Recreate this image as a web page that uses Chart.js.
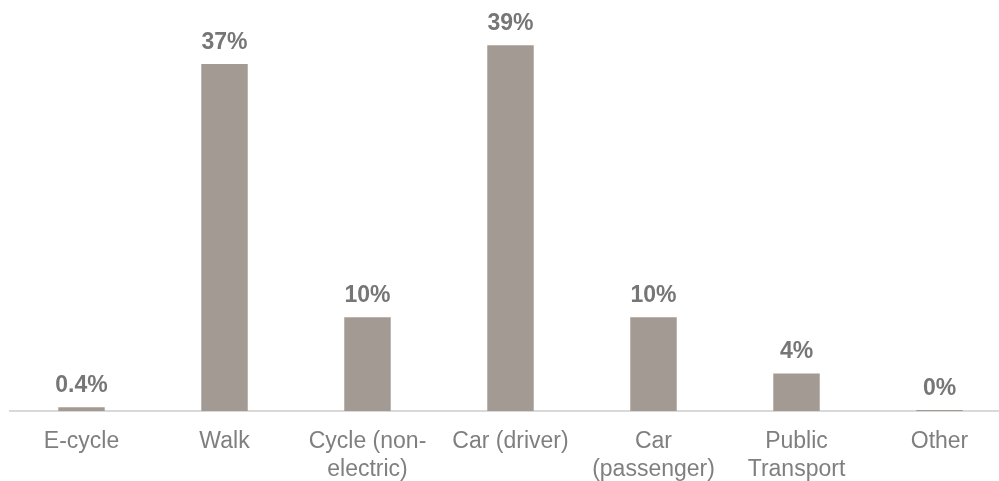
<!DOCTYPE html>
<html>
<head>
<meta charset="utf-8">
<title>Main mode of travel</title>
<script src="https://cdn.jsdelivr.net/npm/chart.js@4/dist/chart.umd.min.js"></script>
<style>
    html, body { margin: 0; padding: 0; background: #ffffff; overflow: hidden; }
    #wrap { width: 999px; height: 481px; overflow: hidden; position: relative; }
    canvas { display: block; }
</style>
</head>
<body>
<div id="wrap">
    <canvas id="modeChart" width="1020" height="481"></canvas>
</div>
<script>
// categories and share of trips (%)
const modes = ['E-cycle', 'Walk', ['Cycle (non-', 'electric)'], 'Car (driver)', ['Car', '(passenger)'], ['Public', 'Transport'], 'Other'];
const shares = [0.4, 37, 10, 39, 10, 4, 0];
const shareLabels = ['0.4%', '37%', '10%', '39%', '10%', '4%', '0%'];

const barColour = '#a39a93';
const fontFamily = '"Liberation Sans", Arial, sans-serif';

// writes the percentage above each bar
const valueLabels = {
    id: 'valueLabels',
    afterDatasetsDraw(chart) {
        const ctx = chart.ctx;
        const meta = chart.getDatasetMeta(0);
        ctx.save();
        ctx.font = 'bold 23px ' + fontFamily;
        ctx.fillStyle = '#767676';
        ctx.textAlign = 'center';
        ctx.textBaseline = 'alphabetic';
        meta.data.forEach(function (bar, i) {
            ctx.fillText(shareLabels[i], bar.x, bar.y - 15);
        });
        ctx.restore();
    }
};

const chart = new Chart(document.getElementById('modeChart'), {
    type: 'bar',
    data: {
        labels: modes,
        datasets: [{
            data: shares,
            backgroundColor: barColour,
            borderWidth: 0,
            barPercentage: 0.65,
            categoryPercentage: 0.5,
            minBarLength: 1
        }]
    },
    options: {
        responsive: false,
        animation: false,
        devicePixelRatio: 1,
        layout: { padding: { left: 10, right: 9, top: 17, bottom: 0 } },
        plugins: {
            legend: { display: false },
            tooltip: { enabled: false }
        },
        scales: {
            x: {
                grid: { display: false, drawTicks: false },
                border: { display: true, color: '#d9d9d9', width: 2 },
                ticks: {
                    color: '#7f7f7f',
                    padding: 16,
                    maxRotation: 0,
                    autoSkip: false,
                    font: { family: fontFamily, size: 23, lineHeight: 1.25 }
                },
                afterFit: function (scale) { scale.height = 70; }
            },
            y: {
                display: false,
                min: 0,
                max: 42
            }
        }
    },
    plugins: [valueLabels]
});
</script>
</body>
</html>
